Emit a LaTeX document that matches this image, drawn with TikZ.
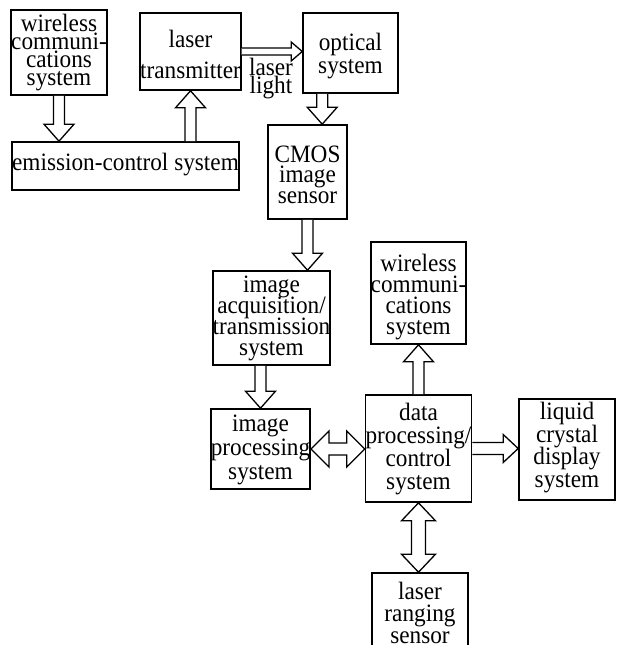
\documentclass[tikz,border=0pt]{standalone}
\usepackage{fontspec}
\setmainfont[FakeStretch=0.93]{Liberation Serif}
\usetikzlibrary{calc}
\newcommand{\fsz}[1]{\fontsize{25}{#1}\selectfont\lineskiplimit=-60pt\lineskip=0pt}
\tikzset{
  box/.style={draw, line width=1.6pt, inner sep=0pt, align=center, text depth=10pt},
  blk/.style={draw, line width=1.3pt, line join=miter, fill=white}
}
% single arrows: #1 start, #2 end, #3 shaft half width, #4 head half width, #5 head length
\newcommand{\ArrDown}[5]{\draw[blk] let \p1=(#1), \p2=(#2) in
  (\x1-#3pt,\y1) -- (\x1-#3pt,\y2+#5pt) -- (\x1-#4pt,\y2+#5pt) -- (\x1,\y2)
  -- (\x1+#4pt,\y2+#5pt) -- (\x1+#3pt,\y2+#5pt) -- (\x1+#3pt,\y1);}
\newcommand{\ArrUp}[5]{\draw[blk] let \p1=(#1), \p2=(#2) in
  (\x1-#3pt,\y1) -- (\x1-#3pt,\y2-#5pt) -- (\x1-#4pt,\y2-#5pt) -- (\x1,\y2)
  -- (\x1+#4pt,\y2-#5pt) -- (\x1+#3pt,\y2-#5pt) -- (\x1+#3pt,\y1);}
\newcommand{\ArrRight}[5]{\draw[blk] let \p1=(#1), \p2=(#2) in
  (\x1,\y1+#3pt) -- (\x2-#5pt,\y1+#3pt) -- (\x2-#5pt,\y1+#4pt) -- (\x2,\y1)
  -- (\x2-#5pt,\y1-#4pt) -- (\x2-#5pt,\y1-#3pt) -- (\x1,\y1-#3pt);}
\newcommand{\ArrBothH}[5]{\draw[blk] let \p1=(#1), \p2=(#2) in
  (\x1+#5pt,\y1+#3pt) -- (\x2-#5pt,\y1+#3pt) -- (\x2-#5pt,\y1+#4pt) -- (\x2,\y1)
  -- (\x2-#5pt,\y1-#4pt) -- (\x2-#5pt,\y1-#3pt) -- (\x1+#5pt,\y1-#3pt)
  -- (\x1+#5pt,\y1-#4pt) -- (\x1,\y1) -- (\x1+#5pt,\y1+#4pt) -- cycle;}
\newcommand{\ArrBothV}[5]{\draw[blk] let \p1=(#1), \p2=(#2) in
  (\x1+#3pt,\y1-#5pt) -- (\x1+#3pt,\y2+#5pt) -- (\x1+#4pt,\y2+#5pt) -- (\x1,\y2)
  -- (\x1-#4pt,\y2+#5pt) -- (\x1-#3pt,\y2+#5pt) -- (\x1-#3pt,\y1-#5pt)
  -- (\x1-#4pt,\y1-#5pt) -- (\x1,\y1) -- (\x1+#4pt,\y1-#5pt) -- cycle;}
\begin{document}
\begin{tikzpicture}[x=1pt,y=1pt]
\useasboundingbox (0,0) rectangle (623,-645);
\clip (0,0) rectangle (623,-645);
% boxes
\node[box, minimum width=94pt, minimum height=77pt, font=\fsz{17.7}, text height=75pt]
  (w1) at (59,-52.5) {wireless\\communi-\\cations\\system};
\node[box, minimum width=93pt, minimum height=77pt, font=\fsz{31}, text height=63pt]
  (lt) at (190.5,-51.5) {laser\\transmitter};
\node[box, minimum width=95pt, minimum height=80pt, font=\fsz{23}, text height=50pt]
  (opt) at (350.5,-53) {optical\\system};
\node[box, minimum width=223pt, minimum height=48pt, font=\fsz{21}, text height=18pt]
  (ec) at (125.5,-166) {emission-control system};
\node[box, minimum width=79pt, minimum height=94pt, font=\fsz{20.5}, text height=72pt]
  (cmos) at (307.5,-172) {CMOS\\image\\sensor};
\node[box, minimum width=117pt, minimum height=88pt, font=\fsz{21}, text height=84pt]
  (iat) at (271.5,-318) {image\\acquisition/\\transmission\\system};
\node[box, minimum width=93pt, minimum height=100pt, font=\fsz{21}, text height=92pt]
  (w2) at (418.5,-293) {wireless\\communi-\\cations\\system};
\node[box, minimum width=95pt, minimum height=78pt, font=\fsz{24}, text height=70pt]
  (ip) at (260.5,-449) {image\\processing\\system};
\node[box, minimum width=95pt, minimum height=107pt, font=\fsz{23}, text height=91pt]
  (dp) at (418.5,-448.5) {data\\processing/\\control\\system};
\node[box, minimum width=96pt, minimum height=101pt, font=\fsz{22.5}, text height=85pt]
  (lcd) at (567,-449.5) {liquid\\crystal\\display\\system};
\node[box, minimum width=96pt, minimum height=94pt, font=\fsz{22}, text height=56pt]
  (lr) at (420,-620) {laser\\ranging\\sensor};
\node[inner sep=0pt, align=center, font=\fsz{18}, anchor=base] (ll) at (271,-93) {laser\\light};
% connectors
\ArrDown{w1.south}{ec.north}{5.5}{15}{17}
\ArrUp{lt.south|-ec.north}{lt.south}{5.5}{15}{17}
\ArrRight{lt.east}{opt.west}{3.5}{9.5}{11}
\ArrDown{$(opt.south west)+(20,0)$}{cmos.north}{5.5}{15}{17}
\ArrDown{cmos.south}{iat.north}{5.5}{15}{17}
\ArrDown{ip.north|-iat.south}{ip.north}{5.5}{15}{17}
\ArrBothH{ip.east}{dp.west}{6}{18}{18}
\ArrUp{dp.north}{w2.south}{5.5}{15}{17}
\ArrRight{dp.east}{lcd.west}{6}{14}{15}
\ArrBothV{dp.south}{lr.north}{7}{17}{18}
\end{tikzpicture}
\end{document}
